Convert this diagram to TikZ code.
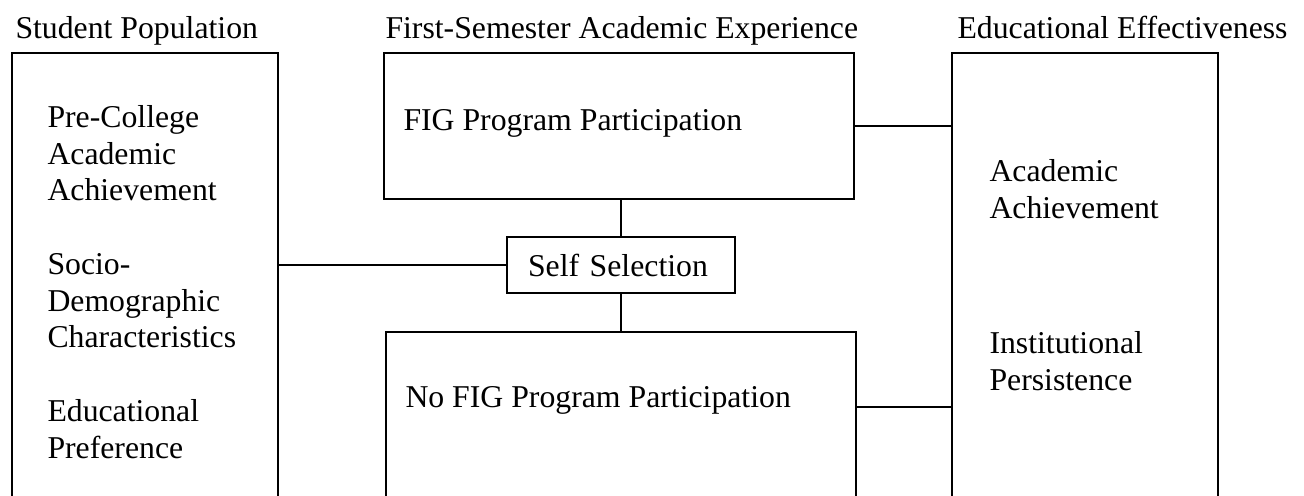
\documentclass[tikz,border=0pt]{standalone}
\usepackage{fontspec}
\setmainfont{Liberation Serif}
\usetikzlibrary{positioning}

\begin{document}
\begin{tikzpicture}[x=0.4pt, y=-0.4pt,
    font=\fontsize{12.7pt}{14.7pt}\selectfont,
    box/.style={draw, line width=0.8pt, inner sep=0pt, anchor=north west},
    txt/.style={inner sep=0pt, anchor=base west, align=left}]
    \clip (0,0) rectangle (1304,495);
    % column titles
    \node[txt] (poptitle) at (15,38) {Student Population};
    \node[txt] (exptitle) at (385,38) {First-Semester Academic Experience};
    \node[txt] (outtitle) at (957,38) {Educational Effectiveness};
    % boxes (open at the bottom)
    \node[box, minimum width=106.4pt, minimum height=187.2pt] (pop) at (11,52) {};
    \node[box, minimum width=188pt, minimum height=58.4pt] (fig) at (383,52) {};
    \node[box, minimum width=188pt, minimum height=75.6pt] (nofig) at (385,331) {};
    \node[box, minimum width=106.4pt, minimum height=187.2pt] (outcome) at (951,52) {};
    \node[draw, line width=0.8pt, minimum height=22.4pt, text width=74.4pt,
          inner xsep=8.4pt, inner ysep=0pt, align=left] (self) at (621,265) {Self Selection};
    % texts (base = last line)
    \node[txt] (poptxt) at (47,458) {Pre-College\\Academic\\Achievement\\[14.7pt]Socio-\\Demographic\\Characteristics\\[14.7pt]Educational\\Preference};
    \node[txt] (figtxt) at (403,130) {FIG Program Participation};
    \node[txt] (nofigtxt) at (405,407) {No FIG Program Participation};
    \node[txt] (achtxt) at (989,218) {Academic\\Achievement};
    \node[txt] (perstxt) at (989,390) {Institutional\\Persistence};
    % connectors
    \draw[line width=0.8pt] (pop.east |- self.west) -- (self.west);
    \draw[line width=0.8pt] (fig.south -| self.north) -- (self.north);
    \draw[line width=0.8pt] (self.south) -- (self.south |- nofig.north);
    \draw[line width=0.8pt] (fig.east) -- (fig.east -| outcome.west);
    \draw[line width=0.8pt] (nofig.east |- nofigtxt.base) -- (outcome.west |- nofigtxt.base);
\end{tikzpicture}
\end{document}
